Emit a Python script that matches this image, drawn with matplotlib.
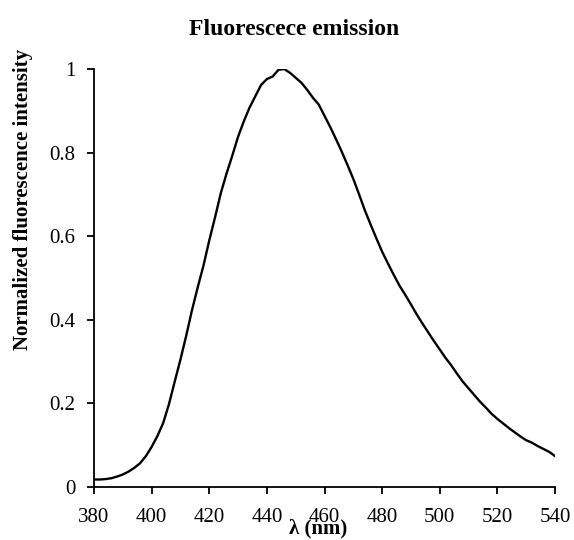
import matplotlib
matplotlib.use("Agg")
import matplotlib.pyplot as plt

# Emission spectrum (2 nm steps)
wavelength = list(range(380, 541, 2))
intensity = [
    0.018, 0.018, 0.019, 0.021, 0.025, 0.030, 0.037, 0.046, 0.057, 0.074,
    0.096, 0.122, 0.153, 0.198, 0.252, 0.305, 0.362, 0.423, 0.478, 0.530,
    0.590, 0.645, 0.703, 0.750, 0.793, 0.838, 0.875, 0.908, 0.935, 0.962,
    0.976, 0.982, 0.998, 1.000, 0.991, 0.979, 0.967, 0.950, 0.931, 0.915,
    0.888, 0.861, 0.832, 0.802, 0.770, 0.737, 0.700, 0.662, 0.628, 0.595,
    0.563, 0.535, 0.508, 0.482, 0.460, 0.437, 0.413, 0.391, 0.370, 0.349,
    0.329, 0.309, 0.291, 0.271, 0.252, 0.236, 0.220, 0.204, 0.190, 0.175,
    0.163, 0.152, 0.141, 0.131, 0.121, 0.112, 0.106, 0.098, 0.091, 0.084,
    0.074,
]
x_ticks = [380, 400, 420, 440, 460, 480, 500, 520, 540]
y_ticks = [0, 0.2, 0.4, 0.6, 0.8, 1]
y_tick_labels = ["0", "0.2", "0.4", "0.6", "0.8", "1"]

plt.rcParams["font.family"] = ["Liberation Serif", "DejaVu Serif"]

fig = plt.figure(figsize=(5.74, 5.40), dpi=100)
ax = fig.add_axes([0.1638, 0.0981, 0.8031, 0.7741])

ax.plot(wavelength, intensity, color="black", linewidth=1.7)

ax.set_xlim(380, 540)
ax.set_ylim(0, 1)
ax.set_xticks(x_ticks)
ax.set_yticks(y_ticks)
ax.set_yticklabels(y_tick_labels)
ax.tick_params(axis="both", direction="out", length=5, width=1.3,
               labelsize=15, color="black")
ax.tick_params(axis="x", pad=10)
ax.tick_params(axis="y", pad=8.5)

for side in ("top", "right"):
    ax.spines[side].set_visible(False)
for side in ("left", "bottom"):
    ax.spines[side].set_linewidth(1.3)

ax.set_xlabel("λ (nm)", fontsize=15, fontweight="bold")
ax.xaxis.set_label_coords(0.486, -0.075)
ax.set_ylabel("Normalized fluorescence intensity", fontsize=15,
              fontweight="bold")
ax.yaxis.set_label_coords(-0.132, 0.687)
fig.text(294.5 / 574, 0.935, "Fluorescece emission", fontsize=17,
         fontweight="bold", ha="center", va="baseline")

fig.savefig("out.png", dpi=100, facecolor="white")
